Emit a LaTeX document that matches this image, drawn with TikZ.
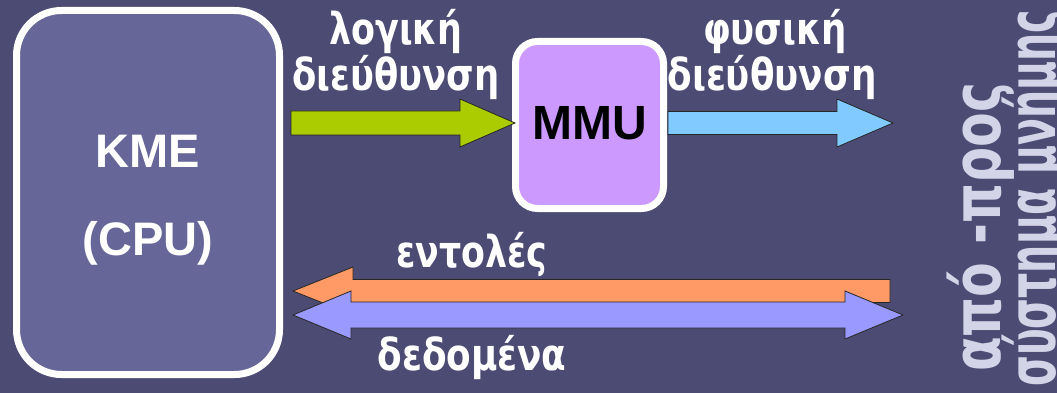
\documentclass[tikz,border=0pt]{standalone}
\usepackage{fontspec}
\setmainfont{Liberation Sans}
\newfontfamily\grk{DejaVu Sans}
\usetikzlibrary{calc}

\definecolor{bgc}{RGB}{76,75,116}
\definecolor{cpuc}{RGB}{102,102,153}
\definecolor{mmuc}{RGB}{204,153,255}
\definecolor{grn}{RGB}{170,204,0}
\definecolor{sky}{RGB}{128,202,255}
\definecolor{org}{RGB}{255,153,102}
\definecolor{lav}{RGB}{153,153,255}
\definecolor{pale}{RGB}{212,212,232}

\tikzset{
  unitbox/.style={draw=white, line width=7pt, inner sep=0pt},
  arrowline/.style={draw=black!85, line width=0.8pt, line join=miter},
  lbl/.style={text=white, inner sep=0pt, anchor=base, font=\grk\bfseries\fontsize{44}{48}\selectfont},
  sidelbl/.style={text=pale, inner sep=0pt, rotate=90, anchor=base west, font=\grk\bfseries\fontsize{67}{70}\selectfont},
}
% set a text to a given width, keeping its height
\newcommand\fitw[2]{\resizebox{#1pt}{\height}{#2}}

% block arrow: fill, tail, tip, shaft half-width, head half-width, head length (signed)
\newcommand\fatarrow[6]{%
  \filldraw[arrowline, fill=#1]
    ($(#2)+(0,-#4)$) -- ($(#3)+({-(#6)},-#4)$) -- ($(#3)+({-(#6)},-#5)$) -- (#3)
    -- ($(#3)+({-(#6)},#5)$) -- ($(#3)+({-(#6)},#4)$) -- ($(#2)+(0,#4)$) -- cycle;}
% double-headed block arrow: fill, left tip, right tip, shaft half-width, head half-width, head length
\newcommand\fatdarrow[6]{%
  \filldraw[arrowline, fill=#1]
    (#2) -- ($(#2)+(#6,-#5)$) -- ($(#2)+(#6,-#4)$) -- ($(#3)+(-#6,-#4)$) -- ($(#3)+(-#6,-#5)$)
    -- (#3) -- ($(#3)+(-#6,#5)$) -- ($(#3)+(-#6,#4)$) -- ($(#2)+(#6,#4)$) -- ($(#2)+(#6,#5)$) -- cycle;}

\begin{document}
\begin{tikzpicture}[x=1pt, y=-1pt]
  \fill[bgc] (0,0) rectangle (1057,393);
  \useasboundingbox (0,0) rectangle (1057,393);

  % processor and memory management unit
  \node[unitbox, fill=cpuc, minimum width=263pt, minimum height=364pt, rounded corners=45pt] (cpu) at (148,192.5) {};
  \node[text=white, align=center, inner sep=0pt, font=\bfseries\fontsize{47}{88}\selectfont]
       (cputxt) at ($(cpu.center)+(0,8)$) {KME\\(CPU)};
  \node[unitbox, fill=mmuc, minimum width=148pt, minimum height=167pt, rounded corners=22pt] (mmu) at (589.5,125) {};
  \node[inner sep=0pt, font=\bfseries\fontsize{48}{50}\selectfont] (mmutxt) at ($(mmu.center)+(0,-2)$) {MMU};

  % address path
  \coordinate (gs) at ($(cpu.east |- 0,123)+(8,0)$);
  \coordinate (gt) at ($(mmu.west |- gs)+(3,0)$);
  \coordinate (bs) at ($(mmu.east |- gs)+(1,0)$);
  \coordinate (bt) at (893,123);
  \fatarrow{grn}{gs}{gt}{12}{24}{55}
  \fatarrow{sky}{bs}{bt}{11.5}{24}{56}

  % instruction and data buses
  \coordinate (os) at (890,291);
  \coordinate (ot) at ($(cpu.east |- 0,291)+(10,0)$);
  \coordinate (dl) at ($(cpu.east |- 0,315)+(10,0)$);
  \coordinate (dr) at (903,315);
  \fatarrow{org}{os}{ot}{11.5}{24}{-60}
  \fatdarrow{lav}{dl}{dr}{13}{24}{58}

  % labels
  \node[lbl] (lg1) at (396,45) {\fitw{133}{λογική}};
  \node[lbl] (lg2) at (396,91) {\fitw{207}{διεύθυνση}};
  \node[lbl] (ph1) at (775,45) {\fitw{144}{φυσική}};
  \node[lbl] (ph2) at (772,91) {\fitw{209}{διεύθυνση}};
  \node[lbl] (ent) at (472,267) {\fitw{151}{εντολές}};
  \node[lbl] (ded) at (472,370) {\fitw{189}{δεδομένα}};

  \node[sidelbl] (rot1) at (1000,372) {\fitw{289}{από -προς}};
  \node[sidelbl] (rot2) at (1055,387) {\fitw{377}{σύστημα μνήμης}};
\end{tikzpicture}
\end{document}
